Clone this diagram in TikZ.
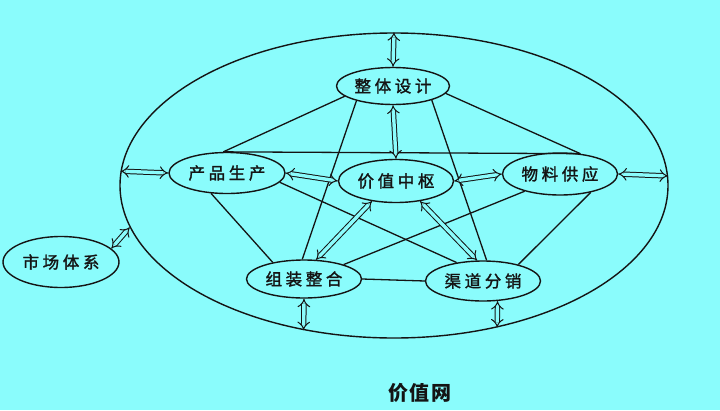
\documentclass[tikz,border=0pt]{standalone}
\usepackage{fontspec}
\newfontfamily\cjk{Noto Sans CJK SC}[LetterSpace=22, FakeBold=1.6]
\newfontfamily\cjktitle{Noto Sans CJK SC}[LetterSpace=8]
\usetikzlibrary{shapes.geometric,arrows.meta}
\definecolor{webCyan}{RGB}{138,252,252}
\definecolor{webInk}{RGB}{20,20,20}
\tikzset{
    member/.style={ellipse, draw=webInk, line width=1.4pt, inner sep=0pt,
                   minimum width=115pt, minimum height=40pt,
                   font=\fontsize{16.5}{18}\cjk, text=webInk},
    ring/.style={ellipse, draw=webInk, line width=1.4pt, inner sep=0pt,
                 minimum width=548pt, minimum height=305pt},
    link/.style={draw=webInk, line width=1.3pt},
    xchg/.style={draw=webInk, double=webCyan, double distance=3.4pt,
                 line width=1pt, {Implies}-{Implies}},
    caption/.style={font=\fontsize{20}{22}\cjktitle\bfseries, text=webInk}
}
\begin{document}
\begin{tikzpicture}[x=1pt,y=-1pt]
  % Background
  \fill[webCyan] (0,0) rectangle (720,410);
  \useasboundingbox (0,0) rectangle (720,410);

  % Outer ring
  \node[ring] (net) at (394,185.5) {};

  % Members
  \node[member, minimum width=113pt, minimum height=37pt] (design) at (393,86) {整体设计};
  \node[member, minimum height=43pt] (hub) at (396,181) {价值中枢};
  \node[member, minimum width=116pt, minimum height=41pt] (prod) at (227,173) {产品生产};
  \node[member, minimum height=42pt] (supply) at (560,174) {物料供应};
  \node[member, minimum height=38pt] (assem) at (304,279) {组装整合};
  \node[member] (dist) at (483,281) {渠道分销};
  \node[member, minimum width=116pt, minimum height=51pt] (market) at (61,262) {市场体系};

  % Links
  \draw[link] (design.192) -- (prod.100);
  \draw[link] (design.352) -- (supply.45);
  \draw[link] (prod.100) -- (supply.45);
  \draw[link] (design.202) -- (assem.95);
  \draw[link] (design.340) -- (dist.80);
  \draw[link] (prod.350) -- (dist.145);
  \draw[link] (prod.232) -- (assem.152);
  \draw[link] (supply.206) -- (assem.20);
  \draw[link] (supply.329) -- (dist.25);
  \draw[link] (assem.east) -- (dist.west);

  % Exchanges
  \draw[xchg] (net.north) -- (design.north);
  \draw[xchg] (design.south) -- (hub.north);
  \draw[xchg] (net.177) -- (prod.west);
  \draw[xchg] (supply.east) -- (net.2);
  \draw[xchg] (prod.east) -- (hub.west);
  \draw[xchg] (hub.east) -- (supply.west);
  \draw[xchg] (hub.220) -- (assem.58);
  \draw[xchg] (hub.320) -- (dist.106);
  \draw[xchg] (assem.south) -- (net.238);
  \draw[xchg] (dist.306) -- (net.306);
  \draw[xchg] (market.15) -- (net.189.6);

  % Caption
  \node[caption] (title) at (420,393) {价值网};
\end{tikzpicture}
\end{document}
